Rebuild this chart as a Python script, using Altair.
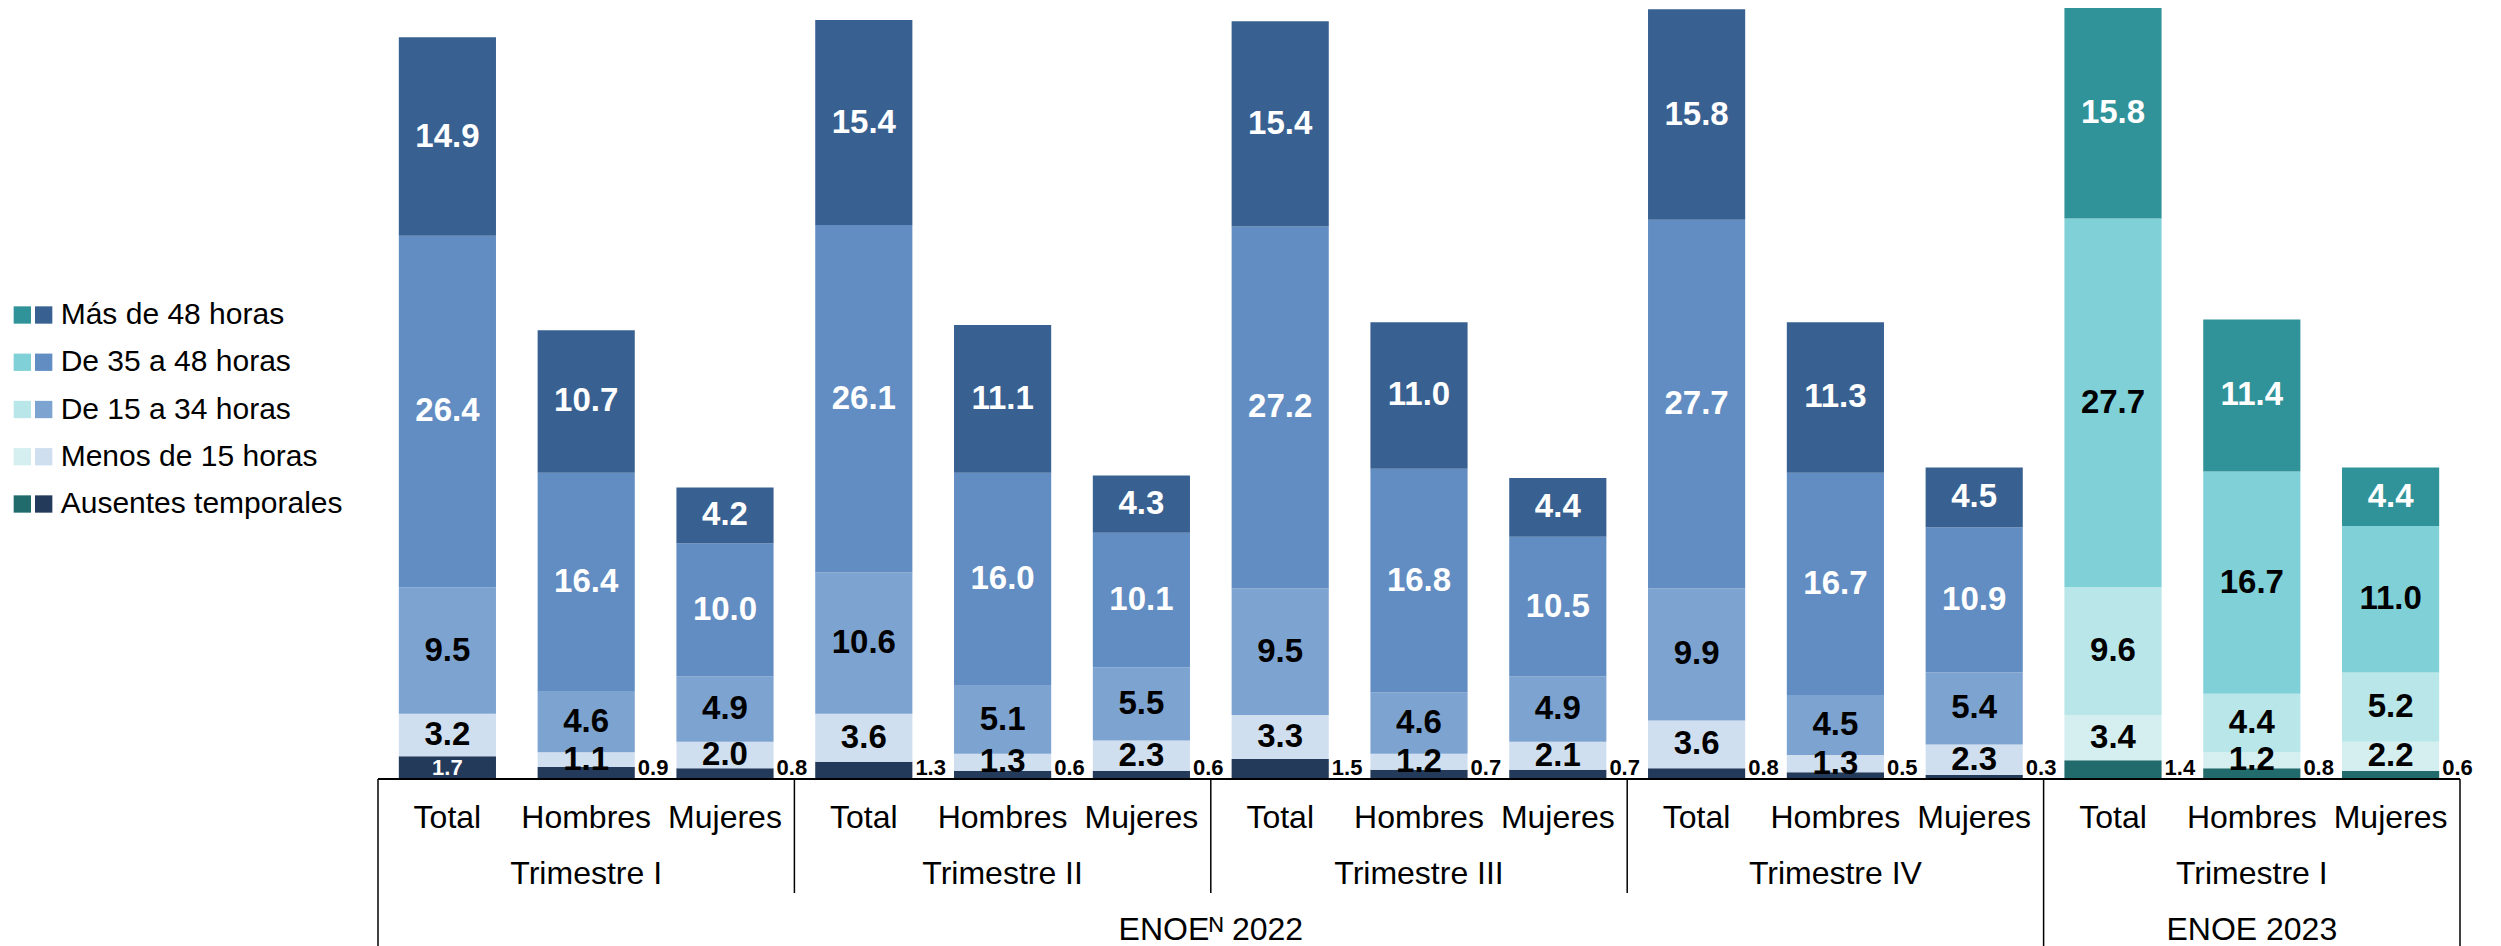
import altair as alt
import pandas as pd

# ---------------- data ----------------
categories = ["Ausentes temporales", "Menos de 15 horas", "De 15 a 34 horas",
              "De 35 a 48 horas", "Más de 48 horas"]
legend_order = list(reversed(categories))

bar_year = ["2022"] * 12 + ["2023"] * 3
bar_quarter = (["Trimestre I"] * 3 + ["Trimestre II"] * 3 + ["Trimestre III"] * 3
               + ["Trimestre IV"] * 3 + ["Trimestre I"] * 3)
bar_sex = ["Total", "Hombres", "Mujeres"] * 5

ausentes = [1.7, 0.9, 0.8, 1.3, 0.6, 0.6, 1.5, 0.7, 0.7, 0.8, 0.5, 0.3, 1.4, 0.8, 0.6]
menos15 = [3.2, 1.1, 2.0, 3.6, 1.3, 2.3, 3.3, 1.2, 2.1, 3.6, 1.3, 2.3, 3.4, 1.2, 2.2]
de15a34 = [9.5, 4.6, 4.9, 10.6, 5.1, 5.5, 9.5, 4.6, 4.9, 9.9, 4.5, 5.4, 9.6, 4.4, 5.2]
de35a48 = [26.4, 16.4, 10.0, 26.1, 16.0, 10.1, 27.2, 16.8, 10.5, 27.7, 16.7, 10.9, 27.7, 16.7, 11.0]
mas48 = [14.9, 10.7, 4.2, 15.4, 11.1, 4.3, 15.4, 11.0, 4.4, 15.8, 11.3, 4.5, 15.8, 11.4, 4.4]
series = [ausentes, menos15, de15a34, de35a48, mas48]

year_titles = {"2022": "ENOEᴺ 2022", "2023": "ENOE 2023"}

colors_2022 = ["#233A5B", "#D0DFF0", "#7DA3D0", "#628DC2", "#386192"]
colors_2023 = ["#226B6C", "#D5EFF1", "#B8E6E9", "#80D0D8", "#31939A"]

# ---------------- tables ----------------
n_bars = len(bar_sex)
rows = []
for i in range(n_bars):
    for j, cat in enumerate(categories):
        rows.append(dict(slot=i, year=bar_year[i], quarter=bar_quarter[i], sex=bar_sex[i],
                         cat=cat, ord=j, value=series[j][i], key=f"{bar_year[i]}|{cat}"))
df = pd.DataFrame(rows)

keys = [f"2022|{c}" for c in categories] + [f"2023|{c}" for c in categories]
key_colors = colors_2022 + colors_2023

bars_df = pd.DataFrame(dict(slot=list(range(n_bars)), sex=bar_sex))

# quarter groups and year groups (consecutive runs)
def runs(labels):
    out = []
    start = 0
    for i in range(1, len(labels) + 1):
        if i == len(labels) or labels[i] != labels[start]:
            out.append((start, i))
            start = i
    return out

q_ids = [f"{y}-{q}" for y, q in zip(bar_year, bar_quarter)]
q_runs = runs(q_ids)
y_runs = runs(bar_year)
quarters_df = pd.DataFrame(dict(center=[(a + b) / 2 for a, b in q_runs],
                                label=[bar_quarter[a] for a, b in q_runs]))
years_df = pd.DataFrame(dict(center=[(a + b) / 2 for a, b in y_runs],
                             label=[year_titles[bar_year[a]] for a, b in y_runs]))
year_bounds = sorted({a for a, b in y_runs} | {b for a, b in y_runs})
quarter_bounds = sorted(({a for a, b in q_runs} | {b for a, b in q_runs}) - set(year_bounds))
ybound_df = pd.DataFrame(dict(x=year_bounds))
qbound_df = pd.DataFrame(dict(x=quarter_bounds))
axis_df = pd.DataFrame(dict(a=[0], b=[n_bars]))

# ---------------- main panel ----------------
FONT = "Liberation Sans"
W, H = 2082, 771
xs = alt.Scale(domain=[0, n_bars], nice=False, zero=False)
ys = alt.Scale(domain=[0, 57.9], nice=False)
color = alt.Color("key:N", scale=alt.Scale(domain=keys, range=key_colors), legend=None)

base = (alt.Chart(df)
        .transform_stack(stack="value", groupby=["slot"], as_=["v0", "v1"],
                         sort=[alt.SortField("ord", order="ascending")])
        .transform_calculate(x0="datum.slot + 0.15", x1="datum.slot + 0.85",
                             xm="datum.slot + 0.5", mid="(datum.v0 + datum.v1) / 2"))

bars = base.mark_bar().encode(
    x=alt.X("x0:Q", scale=xs, axis=None), x2="x1:Q",
    y=alt.Y("v0:Q", scale=ys, axis=None), y2="v1:Q",
    color=color)

white_test = "datum.ord == 4 || datum.ord == 0 || (datum.ord == 3 && datum.year == '2022')"
seg_labels = base.transform_filter("datum.ord > 0 || datum.value >= 1.6").mark_text(
    font=FONT, fontWeight="bold", baseline="middle", align="center").encode(
    x="xm:Q", y="mid:Q",
    text=alt.Text("value:Q", format=".1f"),
    size=alt.condition("datum.ord == 0", alt.value(22), alt.value(33)),
    color=alt.condition(white_test, alt.value("white"), alt.value("black")))

aus_labels = (base.transform_filter("datum.ord == 0 && datum.value < 1.6")
              .transform_calculate(zero="0")
              .mark_text(font=FONT, fontWeight="bold", fontSize=22, align="left",
                         baseline="alphabetic", dx=3, dy=-4, color="black")
              .encode(x="x1:Q", y="zero:Q", text=alt.Text("value:Q", format=".1f")))

axis_line = alt.Chart(axis_df).mark_rule(color="black", strokeWidth=2).encode(
    x="a:Q", x2="b:Q", y=alt.datum(0))

year_lines = alt.Chart(ybound_df).mark_rule(color="black", strokeWidth=1.5).encode(
    x="x:Q", y=alt.value(H), y2=alt.value(940))
quarter_lines = alt.Chart(qbound_df).mark_rule(color="black", strokeWidth=1.5).encode(
    x="x:Q", y=alt.value(H), y2=alt.value(885))

sex_text = (alt.Chart(bars_df).transform_calculate(xm="datum.slot + 0.5")
            .mark_text(font=FONT, fontSize=32, baseline="alphabetic", color="black")
            .encode(x="xm:Q", y=alt.value(820), text="sex:N"))
quarter_text = alt.Chart(quarters_df).mark_text(
    font=FONT, fontSize=32, baseline="alphabetic", color="black").encode(
    x="center:Q", y=alt.value(876), text="label:N")
year_text = alt.Chart(years_df).mark_text(
    font=FONT, fontSize=32, baseline="alphabetic", color="black").encode(
    x="center:Q", y=alt.value(932), text="label:N")

main = alt.layer(bars, seg_labels, aus_labels, axis_line, year_lines, quarter_lines,
                 sex_text, quarter_text, year_text).properties(width=W, height=H)

# ---------------- legend panel ----------------
leg_rows = []
for yr in ["2023", "2022"]:
    for c in categories:
        leg_rows.append(dict(year=yr, cat=c, key=f"{yr}|{c}"))
leg_df = pd.DataFrame(leg_rows)

lx = alt.X("year:N", scale=alt.Scale(type="point", domain=["2023", "2022"], padding=0.67),
           axis=None)
ly = alt.Y("cat:N", scale=alt.Scale(type="point", domain=legend_order, range=[307, 496],
                                    padding=0), axis=None)
leg_sq = alt.Chart(leg_df).mark_square(size=300, opacity=1).encode(x=lx, y=ly, color=color)
leg_txt = (alt.Chart(leg_df).transform_filter("datum.year == '2022'")
           .mark_text(font=FONT, fontSize=30, align="left", baseline="middle", dx=17,
                      color="black")
           .encode(x=lx, y=ly, text="cat:N"))
legend = alt.layer(leg_sq, leg_txt).properties(width=50, height=H)

chart = (alt.hconcat(legend, main, spacing=320, bounds="flush")
         .properties(padding={"left": 0, "top": 0, "right": 0, "bottom": 0},
                     background="white")
         .configure_view(stroke="transparent", strokeWidth=0))

chart.save("out.html", embed_options={"renderer": "svg", "actions": False})
